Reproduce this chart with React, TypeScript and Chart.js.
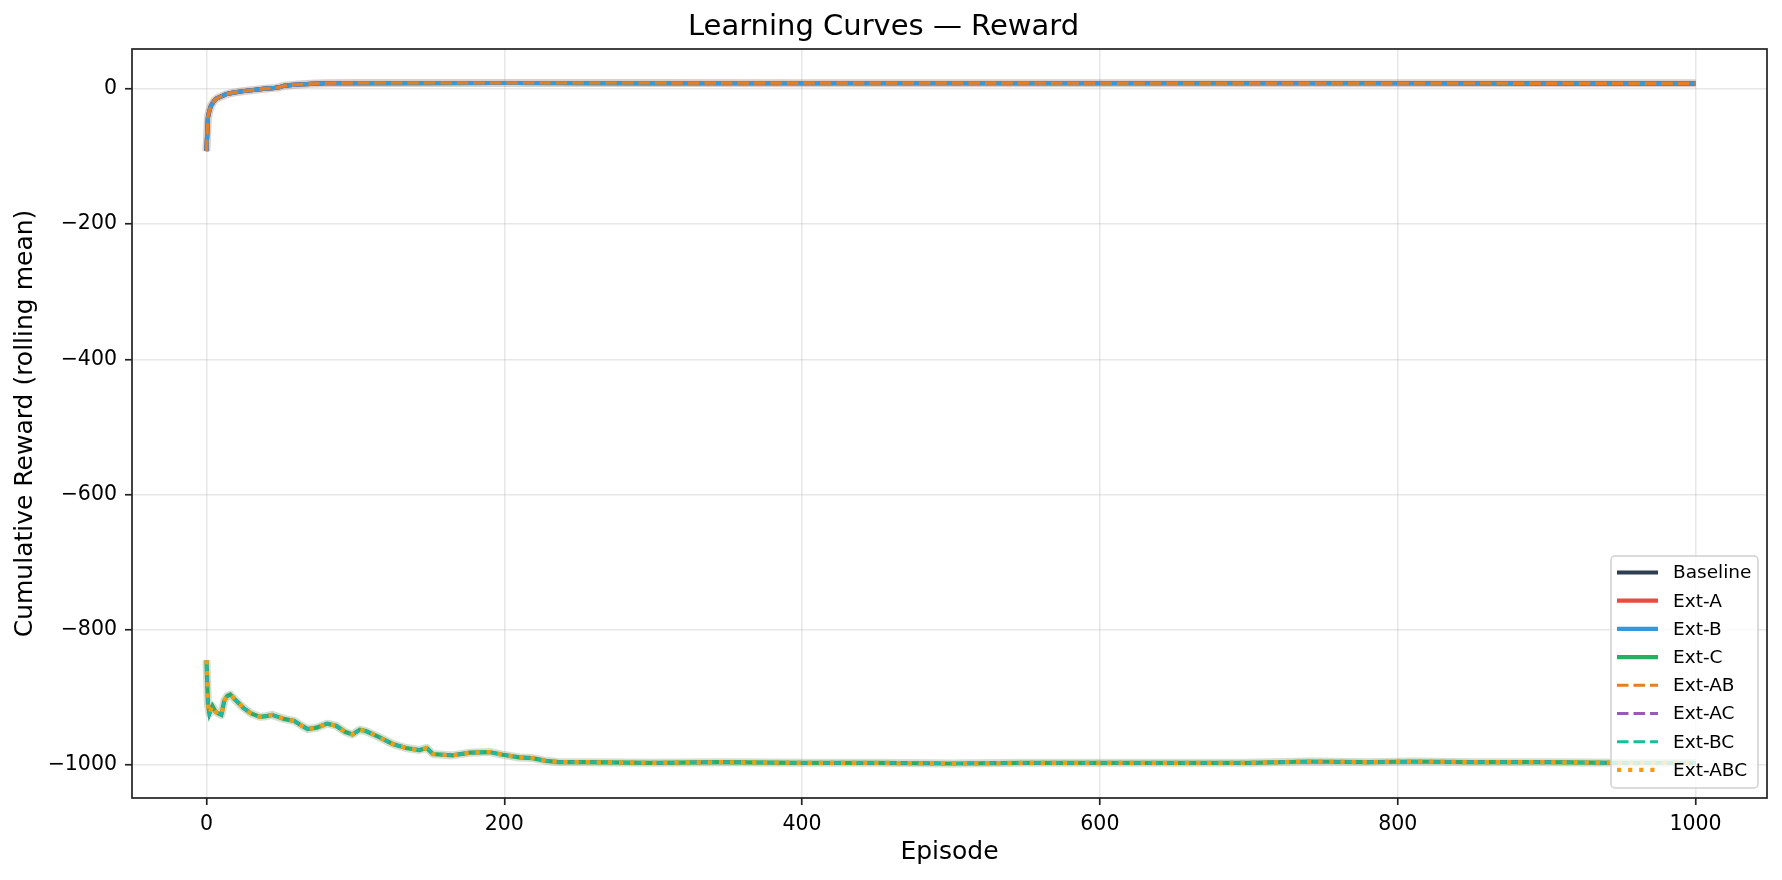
import React, { useEffect, useRef } from "react";
import { Chart, registerables } from "chart.js";
Chart.register(...registerables);

// rolling-mean reward, top group (no C) and bottom group (with C)
const topEpisodes = [0, 1, 2, 3, 5, 7, 10, 13, 18, 24, 30, 38, 46, 49, 52, 56, 62, 70, 80, 100, 200, 300, 400, 500, 600, 700, 800, 900, 1000];
const topReward = [-92, -42, -32, -25, -18, -14, -11, -8, -5.5, -3.5, -2, 0, 1.5, 2.5, 4.5, 5.5, 6.5, 7.5, 8.3, 8.6, 8.7, 8.6, 8.5, 8.5, 8.4, 8.3, 8.3, 8.2, 8.2];

const bottomEpisodes = [0, 1, 2, 3, 4, 5, 6, 8, 10, 12, 14, 16, 19, 25, 30, 36, 40, 44, 48, 52, 59, 64, 68, 74, 81, 87, 93, 98, 103, 107, 116, 125, 134, 143, 148, 152, 165, 177, 190, 199, 210, 219, 228, 237, 255, 300, 345, 400, 450, 500, 550, 600, 650, 700, 740, 780, 810, 850, 900, 950, 1000];
const bottomReward = [-845, -910, -924, -918, -913, -917, -921, -924, -926, -905, -898, -896, -903, -916, -924, -929, -928, -926, -929, -932, -935, -942, -947, -945, -939, -942, -951, -955, -948, -950, -959, -969, -975, -978, -975, -984, -986, -982, -981, -985, -989, -990, -994, -996, -996, -997, -996, -997, -997, -998, -997, -997, -997, -997, -995, -996, -995, -996, -996, -997, -997];

const seriesNames = ["Baseline", "Ext-A", "Ext-B", "Ext-C", "Ext-AB", "Ext-AC", "Ext-BC", "Ext-ABC"];
const seriesGroup = ["top", "top", "top", "bottom", "top", "bottom", "bottom", "bottom"];

const xTicks = [0, 200, 400, 600, 800, 1000];
const yTicks = [-1000, -800, -600, -400, -200, 0];

// styles
const seriesColors = ["#2c3e50", "#e74c3c", "#3498db", "#27ae60", "#e67e22", "#9b59b6", "#1abc9c", "#f39c12"];
const seriesStyle = ["solid", "solid", "solid", "solid", "dashed", "dashed", "dashed", "dotted"];
const styleWidth: any = { solid: 4.2, dashed: 3.1, dotted: 4.2 };
const styleDash: any = { solid: [], dashed: [11.5, 5], dotted: [4.2, 6.9] };

const FONT = "DejaVu Sans";

const hexA = (hex: string, a: number) => {
  const n = parseInt(hex.slice(1), 16);
  return `rgba(${(n >> 16) & 255},${(n >> 8) & 255},${n & 255},${a})`;
};

// faint spread band under each curve
const halo = {
  id: "halo",
  beforeDatasetsDraw(chart: any) {
    const ctx = chart.ctx;
    const { left, top, right, bottom } = chart.chartArea;
    ctx.save();
    ctx.beginPath();
    ctx.rect(left, top, right - left, bottom - top);
    ctx.clip();
    chart.data.datasets.forEach((ds: any, i: number) => {
      const pts = chart.getDatasetMeta(i).data;
      ctx.beginPath();
      pts.forEach((p: any, j: number) => (j ? ctx.lineTo(p.x, p.y) : ctx.moveTo(p.x, p.y)));
      ctx.lineWidth = 8;
      ctx.lineJoin = "round";
      ctx.strokeStyle = hexA(seriesColors[i], 0.09);
      ctx.stroke();
    });
    ctx.restore();
  },
};

const frameAndLegend = {
  id: "frameAndLegend",
  afterDraw(chart: any) {
    const ctx = chart.ctx;
    const { left, top, right, bottom } = chart.chartArea;

    // legend, lower right inside the axes
    const w = 147, h = 232;
    const x0 = right - 9 - w;
    const y0 = bottom - 10 - h;
    ctx.save();
    ctx.beginPath();
    ctx.roundRect(x0, y0, w, h, 4);
    ctx.fillStyle = "rgba(255,255,255,0.8)";
    ctx.fill();
    ctx.strokeStyle = "#d0d0d0";
    ctx.lineWidth = 1.5;
    ctx.stroke();
    ctx.font = `18.5px "${FONT}"`;
    ctx.textBaseline = "middle";
    ctx.textAlign = "left";
    seriesNames.forEach((name, i) => {
      const y = y0 + 16.5 + i * 28.2;
      const st = seriesStyle[i];
      ctx.beginPath();
      ctx.setLineDash(styleDash[st]);
      ctx.lineWidth = styleWidth[st];
      ctx.strokeStyle = seriesColors[i];
      ctx.lineCap = "butt";
      ctx.moveTo(x0 + 6, y);
      ctx.lineTo(x0 + 47, y);
      ctx.stroke();
      ctx.setLineDash([]);
      ctx.fillStyle = "#000";
      ctx.fillText(name, x0 + 62, y + 1);
    });

    // axes frame
    ctx.strokeStyle = "#222";
    ctx.lineWidth = 1.7;
    ctx.strokeRect(left, top, right - left, bottom - top);
    ctx.restore();
  },
};

const fmt = (v: number) => (v < 0 ? "\u2212" + Math.abs(v) : String(v));

const App = () => {
  const canvasRef = useRef<HTMLCanvasElement>(null);

  useEffect(() => {
    const datasets = seriesNames.map((name, i) => {
      const eps = seriesGroup[i] === "top" ? topEpisodes : bottomEpisodes;
      const vals = seriesGroup[i] === "top" ? topReward : bottomReward;
      const st = seriesStyle[i];
      return {
        label: name,
        data: eps.map((e, j) => ({ x: e, y: vals[j] })),
        borderColor: seriesColors[i],
        backgroundColor: seriesColors[i],
        borderWidth: styleWidth[st],
        borderDash: styleDash[st],
        borderCapStyle: "butt",
        pointRadius: 0,
        tension: 0,
        fill: false,
        // later series drawn on top, as in the original
        order: seriesNames.length - i,
      };
    });

    const chart = new Chart(canvasRef.current as HTMLCanvasElement, {
      type: "line",
      data: { datasets } as any,
      plugins: [halo, frameAndLegend],
      options: {
        animation: false,
        responsive: true,
        maintainAspectRatio: false,
        layout: { padding: { top: 0, right: 15, bottom: 0, left: 0 } },
        plugins: {
          legend: { display: false },
          tooltip: { enabled: false },
          title: {
            display: true,
            text: "Learning Curves \u2014 Reward",
            color: "#000",
            font: { family: FONT, size: 29, weight: "normal" },
            padding: { top: 9.6, bottom: 4.6 },
          },
        },
        scales: {
          x: {
            type: "linear",
            min: -50,
            max: 1048,
            afterBuildTicks: (s: any) => {
              s.ticks = xTicks.map((v) => ({ value: v }));
            },
            afterFit: (s: any) => {
              s.height = 82;
              s.paddingLeft = 0;
              s.paddingRight = 0;
            },
            grid: {
              color: "rgba(176,176,176,0.3)",
              lineWidth: 1.5,
              tickColor: "#222",
              tickWidth: 1.7,
              tickLength: 7,
            },
            border: { display: false },
            ticks: {
              color: "#000",
              font: { family: FONT, size: 20.5 },
              padding: 7,
              maxRotation: 0,
              callback: (v: any) => fmt(v),
            },
            title: {
              display: true,
              text: "Episode",
              color: "#000",
              font: { family: FONT, size: 25 },
              padding: { top: 0, bottom: 13 },
            },
          },
          y: {
            type: "linear",
            min: -1049,
            max: 59,
            afterBuildTicks: (s: any) => {
              s.ticks = yTicks.map((v) => ({ value: v }));
            },
            afterFit: (s: any) => {
              s.width = 132;
              s.paddingTop = 0;
              s.paddingBottom = 0;
            },
            grid: {
              color: "rgba(176,176,176,0.3)",
              lineWidth: 1.5,
              tickColor: "#222",
              tickWidth: 1.7,
              tickLength: 7,
            },
            border: { display: false },
            ticks: {
              color: "#000",
              font: { family: FONT, size: 20.5 },
              padding: 8,
              callback: (v: any) => fmt(v),
            },
            title: {
              display: true,
              text: "Cumulative Reward (rolling mean)",
              color: "#000",
              font: { family: FONT, size: 25 },
              padding: { top: 10, bottom: 0 },
            },
          },
        },
      } as any,
    });

    return () => {
      chart.destroy();
    };
  }, []);

  return (
    <div style={{ position: "absolute", left: 0, top: 0, width: 1782, height: 880, background: "#fff" }}>
      <canvas ref={canvasRef}></canvas>
    </div>
  );
};

export default App;
